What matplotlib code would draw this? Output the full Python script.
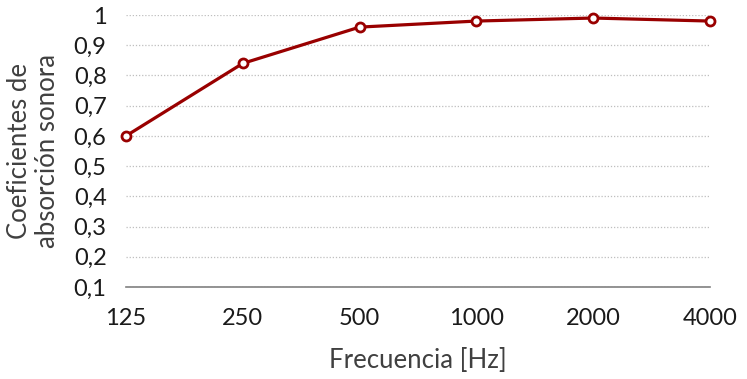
import matplotlib
matplotlib.use("Agg")
import matplotlib.pyplot as plt

categories = ["125", "250", "500", "1000", "2000", "4000"]
values = [0.60, 0.84, 0.96, 0.98, 0.99, 0.98]
yticks = [0.1, 0.2, 0.3, 0.4, 0.5, 0.6, 0.7, 0.8, 0.9, 1.0]
ytick_labels = ["0,1", "0,2", "0,3", "0,4", "0,5", "0,6", "0,7", "0,8", "0,9", "1"]

plt.rcParams['font.family'] = ['Lato', 'DejaVu Sans']

fig = plt.figure(figsize=(7.47, 3.79), dpi=100)
ax = fig.add_axes([0.1687, 0.2427, 0.9505 - 0.1687, 0.9604 - 0.2427])

x = list(range(len(categories)))
ax.plot(x, values, color="#990000", lw=2.3, marker="o", ms=6.5,
        mfc="white", mec="#990000", mew=2, clip_on=False, zorder=3)

ax.set_xlim(0, len(categories) - 1)
ax.set_ylim(0.1, 1.0)
ax.set_xticks(x)
ax.set_xticklabels(categories)
ax.set_yticks(yticks)
ax.set_yticklabels(ytick_labels)
ax.tick_params(axis="both", length=0, labelsize=17, colors="#1a1a1a")
ax.tick_params(axis="x", pad=15)
ax.tick_params(axis="y", pad=14)

ax.grid(axis="y", linestyle=(0, (1, 1.5)), color="#bfbfbf", lw=0.9)
ax.set_axisbelow(True)
for s in ["top", "right", "left"]:
    ax.spines[s].set_visible(False)
ax.spines["bottom"].set_color("#808080")
ax.spines["bottom"].set_linewidth(1.2)

ax.set_xlabel("Frecuencia [Hz]", fontsize=18.5, color="#404040", labelpad=14)
ax.set_ylabel("Coeficientes de\nabsorción sonora", fontsize=18.5, color="#404040",
              labelpad=10, linespacing=1.12)

fig.savefig("out.png", dpi=100)
